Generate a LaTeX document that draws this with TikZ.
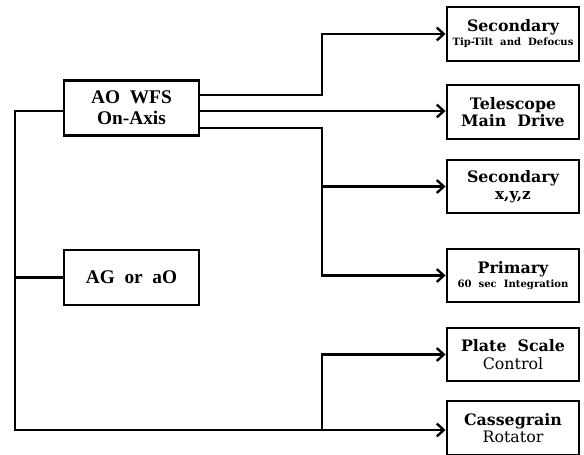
\documentclass[tikz,border=0pt]{standalone}
\usepackage{fontspec}
\setmainfont{Liberation Serif}
\newfontfamily\ctlfont{DejaVu Serif}
\newcommand\smtxt{\ctlfont\bfseries\fontsize{8.6}{10}\selectfont}
\usetikzlibrary{arrows.meta,calc}

\begin{document}
\begin{tikzpicture}[
    x=0.03cm, y=-0.03cm,
    src/.style={draw, line width=1.9pt, minimum width=4.05cm, minimum height=1.65cm, align=center, font=\fontsize{16.5}{18}\selectfont\bfseries, inner sep=2pt},
    ctl/.style={draw, line width=1.9pt, minimum width=3.98cm, minimum height=1.6cm, align=center, font=\ctlfont\bfseries\fontsize{13.5}{15}\selectfont, inner sep=1pt},
    arr/.style={-{Straight Barb[length=6pt,width=11pt,line width=2pt]}, line width=2.3pt},
    ln/.style={line width=2.3pt}
]
\useasboundingbox (0,0) rectangle (584,455);

\node[src] (wfs) at (131.5,108) {AO\ \ WFS\\On-Axis};
\node[src] (ag) at (131.5,277.5) {AG\ \ or\ \ aO};

\node[ctl] (sectt) at (513,34) {Secondary\\[-3pt]{\smtxt Tip-Tilt\ \ and\ \ Defocus}};
\node[ctl] (drive) at (513,112) {Telescope\\Main\ \ Drive};
\node[ctl] (secxyz) at (513,186.5) {Secondary\\{\fontsize{13}{15}\selectfont x,y,z}};
\node[ctl] (prim) at (513,275.5) {Primary\\[-3pt]{\smtxt 60\ \ sec\ \ Integration}};
\node[ctl] (plate) at (513,354.5) {Plate\ \ Scale\\{\mdseries Control}};
\node[ctl] (rot) at (513,428) {Cassegrain\\{\mdseries Rotator}};

\coordinate (up) at (322,95);
\coordinate (mid) at ($(wfs.east)+(0,3)$);
\coordinate (split) at (322,128);
\coordinate (corner) at (15,430);
\coordinate (split2) at (322,430);

% WFS outputs
\draw[arr] ($(wfs.east)+(0,-13)$) -- (up) |- (sectt.west);
\draw[arr] (mid) -- (mid -| drive.west);
\draw[arr] ($(wfs.east)+(0,20)$) -- (split) |- (secxyz.west);
\draw[arr] (split) |- (prim.west);

% left bus
\draw[arr] ($(wfs.west)+(0,3)$) -| (corner) -- (corner -| rot.west);
\draw[ln] (ag.west) -- (ag.west -| corner);
\draw[arr] (split2) |- (plate.west);
\end{tikzpicture}
\end{document}
